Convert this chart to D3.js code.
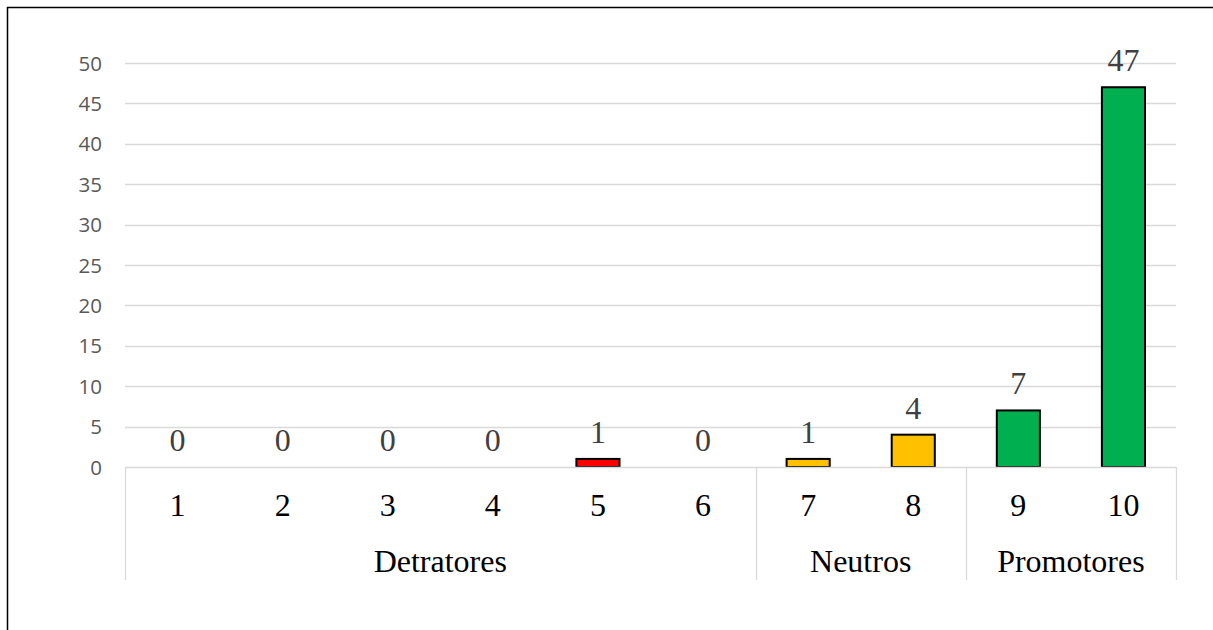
<!DOCTYPE html>
<html>
<head>
<meta charset="utf-8">
<script src="https://cdn.jsdelivr.net/npm/d3@7"></script>
<style>
  html, body { margin: 0; padding: 0; background: #fff; }
  svg { display: block; }
</style>
</head>
<body>
<svg id="chart" width="1213" height="630"></svg>
<script>
const categories = ["1", "2", "3", "4", "5", "6", "7", "8", "9", "10"];
const values = [0, 0, 0, 0, 1, 0, 1, 4, 7, 47];
const groupOf = ["Detratores", "Detratores", "Detratores", "Detratores", "Detratores", "Detratores", "Neutros", "Neutros", "Promotores", "Promotores"];
const groups = ["Detratores", "Neutros", "Promotores"];
const barColors = ["#FF0000", "#FF0000", "#FF0000", "#FF0000", "#FF0000", "#FF0000", "#FFC000", "#FFC000", "#00B050", "#00B050"];
const yTicks = [0, 5, 10, 15, 20, 25, 30, 35, 40, 45, 50];

const svg = d3.select("#chart");
const W = 1213, H = 630;

// outer frame
svg.append("rect")
  .attr("x", 7.5).attr("y", 7.5)
  .attr("width", W + 20).attr("height", H + 20)
  .attr("fill", "none").attr("stroke", "#000").attr("stroke-width", 1.5);

const plot = { left: 125, right: 1176, top: 63, bottom: 467 };

const x = d3.scaleBand().domain(categories).range([plot.left, plot.right]).paddingInner(0.59).paddingOuter(0.295);
const xOuter = d3.scaleBand().domain(categories).range([plot.left, plot.right]);
const y = d3.scaleLinear().domain([0, 50]).range([plot.bottom, plot.top]);

// gridlines
svg.append("g").selectAll("line").data(yTicks.filter(t => t > 0)).join("line")
  .attr("x1", plot.left).attr("x2", plot.right)
  .attr("y1", d => Math.round(y(d)) + 0.5).attr("y2", d => Math.round(y(d)) + 0.5)
  .attr("stroke", "#d9d9d9").attr("stroke-width", 1.3);

// y axis labels
const yAxis = d3.axisLeft(y).tickValues(yTicks).tickSize(0).tickPadding(0);
const yg = svg.append("g").attr("transform", `translate(102,0)`).call(yAxis);
yg.select(".domain").remove();
yg.selectAll("text")
  .attr("font-family", "'Open Sans', 'Liberation Sans', sans-serif")
  .attr("font-size", 20.5)
  .attr("fill", "#595959")
  .attr("dy", "0.35em");

// bars
const bars = svg.append("g").attr("class", "bars");
values.forEach((v, i) => {
  if (v <= 0) return;
  bars.append("rect")
    .attr("x", x(categories[i]))
    .attr("y", y(v))
    .attr("width", x.bandwidth())
    .attr("height", y(0) - y(v))
    .attr("fill", barColors[i])
    .attr("stroke", "#000")
    .attr("stroke-width", 2);
});

// baseline axis
svg.append("line")
  .attr("x1", plot.left).attr("x2", plot.right)
  .attr("y1", plot.bottom + 0.5).attr("y2", plot.bottom + 0.5)
  .attr("stroke", "#d9d9d9").attr("stroke-width", 1.3);

// data labels
svg.append("g").selectAll("text").data(values).join("text")
  .attr("x", (d, i) => x(categories[i]) + x.bandwidth() / 2)
  .attr("y", d => y(d) - 16)
  .attr("text-anchor", "middle")
  .attr("font-family", "'Liberation Serif', 'Times New Roman', serif")
  .attr("font-size", 32)
  .attr("fill", "#404040")
  .text(d => d);

// category labels
svg.append("g").selectAll("text").data(categories).join("text")
  .attr("x", d => xOuter(d) + xOuter.bandwidth() / 2)
  .attr("y", 516)
  .attr("text-anchor", "middle")
  .attr("font-family", "'Liberation Serif', 'Times New Roman', serif")
  .attr("font-size", 32)
  .attr("fill", "#000")
  .text(d => d);

// group separators and labels
const groupSpans = groups.map(g => {
  const idx = groupOf.map((gg, i) => gg === g ? i : -1).filter(i => i >= 0);
  const x0 = xOuter(categories[idx[0]]);
  const x1 = xOuter(categories[idx[idx.length - 1]]) + xOuter.bandwidth();
  return { g, x0, x1 };
});
const sepX = [plot.left, ...groupSpans.map(s => s.x1)];
svg.append("g").selectAll("line").data(sepX).join("line")
  .attr("x1", d => Math.round(d) + 0.5).attr("x2", d => Math.round(d) + 0.5)
  .attr("y1", plot.bottom).attr("y2", 580)
  .attr("stroke", "#d9d9d9").attr("stroke-width", 1.3);

svg.append("g").selectAll("text").data(groupSpans).join("text")
  .attr("x", d => (d.x0 + d.x1) / 2)
  .attr("y", 572)
  .attr("text-anchor", "middle")
  .attr("font-family", "'Liberation Serif', 'Times New Roman', serif")
  .attr("font-size", 32)
  .attr("fill", "#000")
  .text(d => d.g);
</script>
</body>
</html>
